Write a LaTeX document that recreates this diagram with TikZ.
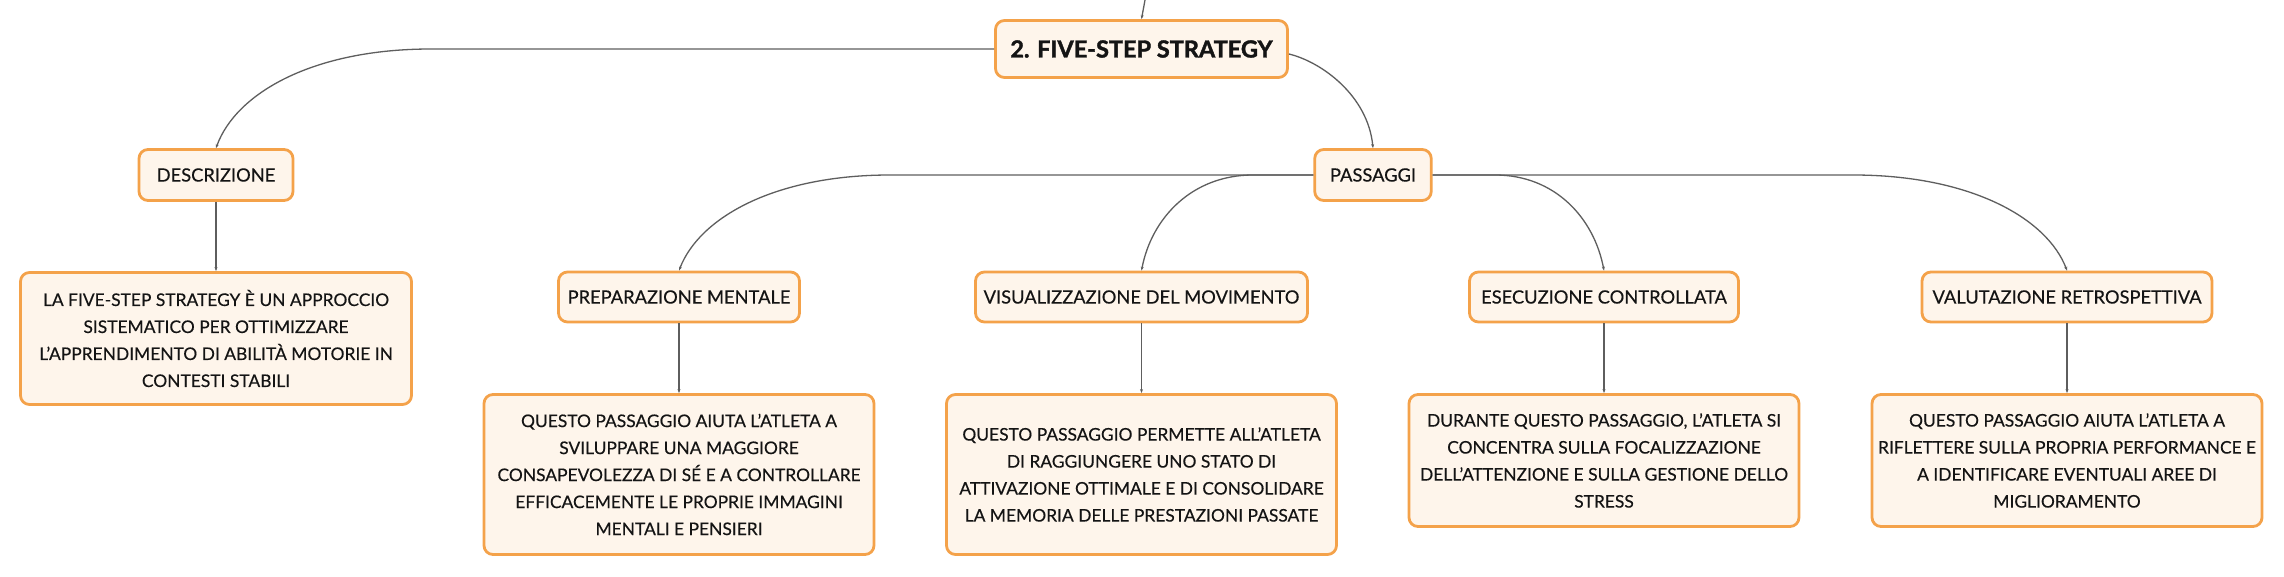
\documentclass[tikz,border=0pt]{standalone}
\usepackage{fontspec}
\setmainfont{Lato}[FakeBold=0.35]
\newfontfamily\titlefont{Lato}[FakeBold=1.6]
\usetikzlibrary{arrows.meta}
\definecolor{boxborder}{HTML}{F4A24A}
\definecolor{boxfill}{HTML}{FEF5EB}
\definecolor{linkcol}{HTML}{5E5E5E}
\definecolor{txtcol}{HTML}{141414}
\tikzset{
  box/.style={draw=boxborder, fill=boxfill, line width=2.8pt, rounded corners=9pt,
    inner sep=0pt, text=txtcol, align=center},
  titlebox/.style={box, font=\fontsize{23.5}{28}\titlefont\bfseries},
  labelbox/.style={box, font=\fontsize{18.3}{24}\selectfont},
  textbox/.style={box, font=\fontsize{17.4}{27}\selectfont},
  link/.style={draw=linkcol, line width=1.3pt, -{Stealth[length=4pt,width=3pt]}}
}
\begin{document}
\begin{tikzpicture}[x=1pt,y=-1pt]
\fill[white] (0,0) rectangle (2284,577);
\useasboundingbox (0,0) rectangle (2284,577);

% nodes
\node[titlebox, minimum width=292, minimum height=57] (main) at (1141.5,49) {2. FIVE-STEP STRATEGY};
\node[labelbox, minimum width=154, minimum height=51] (descl) at (216,175) {DESCRIZIONE};
\node[textbox, minimum width=391, minimum height=132] (desct) at (216,338.5)
  {LA FIVE-STEP STRATEGY È UN APPROCCIO\\SISTEMATICO PER OTTIMIZZARE\\L’APPRENDIMENTO DI ABILITÀ MOTORIE IN\\CONTESTI STABILI};
\node[labelbox, minimum width=116.5, minimum height=51] (pass) at (1373,175) {PASSAGGI};

\node[labelbox, minimum width=241, minimum height=50] (prep) at (679,297) {PREPARAZIONE MENTALE};
\node[labelbox, minimum width=332, minimum height=50] (vis) at (1141.5,297) {VISUALIZZAZIONE DEL MOVIMENTO};
\node[labelbox, minimum width=269, minimum height=50] (ese) at (1604,297) {ESECUZIONE CONTROLLATA};
\node[labelbox, minimum width=290, minimum height=50] (val) at (2067,297) {VALUTAZIONE RETROSPETTIVA};

\node[textbox, minimum width=390, minimum height=160] (prept) at (679,474.5)
  {QUESTO PASSAGGIO AIUTA L’ATLETA A\\SVILUPPARE UNA MAGGIORE\\CONSAPEVOLEZZA DI SÉ E A CONTROLLARE\\EFFICACEMENTE LE PROPRIE IMMAGINI\\MENTALI E PENSIERI};
\node[textbox, minimum width=390, minimum height=160] (vist) at (1141.5,474.5)
  {QUESTO PASSAGGIO PERMETTE ALL’ATLETA\\DI RAGGIUNGERE UNO STATO DI\\ATTIVAZIONE OTTIMALE E DI CONSOLIDARE\\LA MEMORIA DELLE PRESTAZIONI PASSATE};
\node[textbox, minimum width=390, minimum height=132] (eset) at (1604,460.5)
  {DURANTE QUESTO PASSAGGIO, L’ATLETA SI\\CONCENTRA SULLA FOCALIZZAZIONE\\DELL’ATTENZIONE E SULLA GESTIONE DELLO\\STRESS};
\node[textbox, minimum width=390, minimum height=132] (valt) at (2067,460.5)
  {QUESTO PASSAGGIO AIUTA L’ATLETA A\\RIFLETTERE SULLA PROPRIA PERFORMANCE E\\A IDENTIFICARE EVENTUALI AREE DI\\MIGLIORAMENTO};

% bend coordinates
\coordinate (top) at (1145,0);
\coordinate (bdesc) at (431,49);
\coordinate (bprep) at (890,175);
\coordinate (bvis) at (1253,175);
\coordinate (bese) at (1495,175);
\coordinate (bval) at (1853,175);

% connectors
\draw[link] (top) -- (main.north);
\draw[link] (main.west) -- (bdesc) .. controls (313,49) and (236,93) .. (descl.north);
\draw[link] ([yshift=-5pt]main.east) .. controls (1322,62) and (1368,96) .. (pass.north);
\draw[link] (descl.south) -- (desct.north);

\draw[link] (pass.west) -- (bprep) .. controls (774,175) and (699,218) .. (prep.north);
\draw[link] (pass.west) -- (bvis) .. controls (1192,175) and (1151.5,218) .. (vis.north);
\draw[link] (pass.east) -- (bese) .. controls (1555,175) and (1594,218) .. (ese.north);
\draw[link] (pass.east) -- (bval) .. controls (1970,175) and (2047,218) .. (val.north);

\draw[link] (prep.south) -- (prept.north);
\draw[link] (vis.south) -- (vist.north);
\draw[link] (ese.south) -- (eset.north);
\draw[link] (val.south) -- (valt.north);
\end{tikzpicture}
\end{document}
